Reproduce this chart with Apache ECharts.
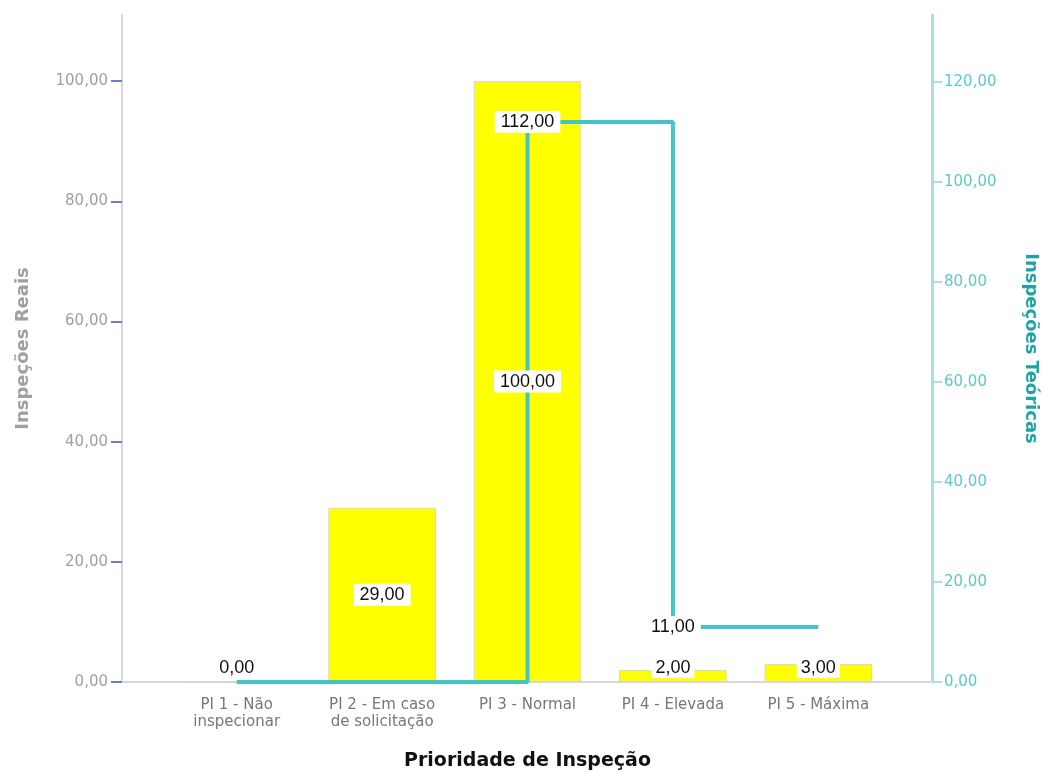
<!DOCTYPE html>
<html><head><meta charset="utf-8">
<script src="https://cdn.jsdelivr.net/npm/echarts@6/dist/echarts.min.js"></script>
<style>html,body{margin:0;padding:0;background:#fff}#c{width:1043px;height:773px}</style>
</head><body><div id="c"></div>
<script>
const categories = ['PI 1 - Não\ninspecionar', 'PI 2 - Em caso\nde solicitação', 'PI 3 - Normal', 'PI 4 - Elevada', 'PI 5 - Máxima'];
const inspecoesReais = [0, 29, 100, 2, 3];
const inspecoesTeoricas = [0, 0, 112, 11, 11];
const teoricasLabelShown = [false, false, true, true, false];
const leftTicks = [0, 20, 40, 60, 80, 100];
const rightTicks = [0, 20, 40, 60, 80, 100, 120];

const fmt = v => Number(v).toFixed(2).replace('.', ',');
const labelFont = {fontFamily: 'Liberation Sans', fontSize: 18, color: '#111', backgroundColor: '#fff'};
const chart = echarts.init(document.getElementById('c'));
chart.setOption({
  animation: false,
  grid: [
    {left: 164, right: 152, top: 15, bottom: 91, outerBoundsMode: 'none'},
    {left: 122, right: 111, top: 15, bottom: 91, outerBoundsMode: 'none'}
  ],
  xAxis: [{
    type: 'category', data: categories, gridIndex: 0,
    name: 'Prioridade de Inspeção', nameLocation: 'middle', nameGap: 70,
    nameTextStyle: {fontFamily: 'DejaVu Sans', fontWeight: 'bold', fontSize: 19, color: '#111'},
    axisLine: {show: false},
    axisTick: {alignWithLabel: true, length: 10, lineStyle: {color: '#333', width: 1.5}},
    axisLabel: {interval: 0, fontFamily: 'DejaVu Sans', fontSize: 15, color: '#777', lineHeight: 17, margin: 15}
  }, {
    type: 'value', gridIndex: 1, min: 0, max: 1,
    axisLine: {show: true, lineStyle: {color: '#d8d8d8', width: 2}},
    axisTick: {show: false}, axisLabel: {show: false}, splitLine: {show: false}
  }],
  yAxis: [{
    type: 'value', min: 0, max: 111, position: 'left', offset: 42, gridIndex: 0,
    name: 'Inspeções Reais', nameLocation: 'middle', nameGap: 90, nameRotate: 90,
    nameTextStyle: {fontFamily: 'DejaVu Sans', fontWeight: 'bold', fontSize: 18, color: '#a0a0a0'},
    axisLine: {show: true, lineStyle: {color: '#d8d8d8', width: 2}},
    axisTick: {show: true, length: 11, customValues: leftTicks, lineStyle: {color: '#6b7fc6', width: 2}},
    axisLabel: {customValues: leftTicks, formatter: fmt, fontFamily: 'DejaVu Sans', fontSize: 15, color: '#a0a0a0', margin: 14},
    splitLine: {show: false}
  }, {
    type: 'value', min: 0, max: 133.4, position: 'right', offset: 41, gridIndex: 0,
    name: 'Inspeções Teóricas', nameLocation: 'middle', nameGap: 90, nameRotate: -90,
    nameTextStyle: {fontFamily: 'DejaVu Sans', fontWeight: 'bold', fontSize: 18, color: '#1fa3a6'},
    axisLine: {show: true, lineStyle: {color: '#a9e1e2', width: 3}},
    axisTick: {show: true, length: 10, customValues: rightTicks, lineStyle: {color: '#a9e1e2', width: 2}},
    axisLabel: {customValues: rightTicks, formatter: fmt, fontFamily: 'DejaVu Sans', fontSize: 15, color: '#5cc9c9', margin: 12},
    splitLine: {show: false}
  }, {
    type: 'value', gridIndex: 1, show: false, min: 0, max: 1
  }],
  series: [{
    type: 'bar', yAxisIndex: 0, data: inspecoesReais, barWidth: '74%', z: 2,
    itemStyle: {color: '#ffff00', borderColor: '#d6d6d6', borderWidth: 1},
    label: {show: false}
  }, {
    type: 'line', yAxisIndex: 1, data: inspecoesTeoricas, step: 'end', z: 3,
    symbol: 'none', showSymbol: false,
    lineStyle: {color: '#45c4c8', width: 4},
    label: {show: false}
  }, {
    type: 'line', yAxisIndex: 1, z: 6, symbol: 'circle', showSymbol: true, symbolSize: 2,
    itemStyle: {color: 'rgba(0,0,0,0)', borderWidth: 0},
    lineStyle: {width: 0, color: 'rgba(0,0,0,0)'},
    labelLayout: {hideOverlap: false},
    data: inspecoesTeoricas.map((v, i) => ({
      value: v,
      label: Object.assign({show: teoricasLabelShown[i], position: 'inside', formatter: p => fmt(p.value),
        padding: [2, 6]}, labelFont)
    }))
  }, {
    type: 'bar', yAxisIndex: 0, barGap: '-100%', barWidth: '74%', z: 5,
    itemStyle: {color: 'rgba(0,0,0,0)'},
    data: inspecoesReais.map(v => ({
      value: v,
      label: v > 10
        ? Object.assign({show: true, position: 'inside', formatter: p => fmt(p.value), padding: [2, 6]}, labelFont)
        : Object.assign({show: true, position: 'insideBottom', distance: 4, formatter: p => fmt(p.value), padding: [1, 4]}, labelFont)
    }))
  }]
});
</script></body></html>
